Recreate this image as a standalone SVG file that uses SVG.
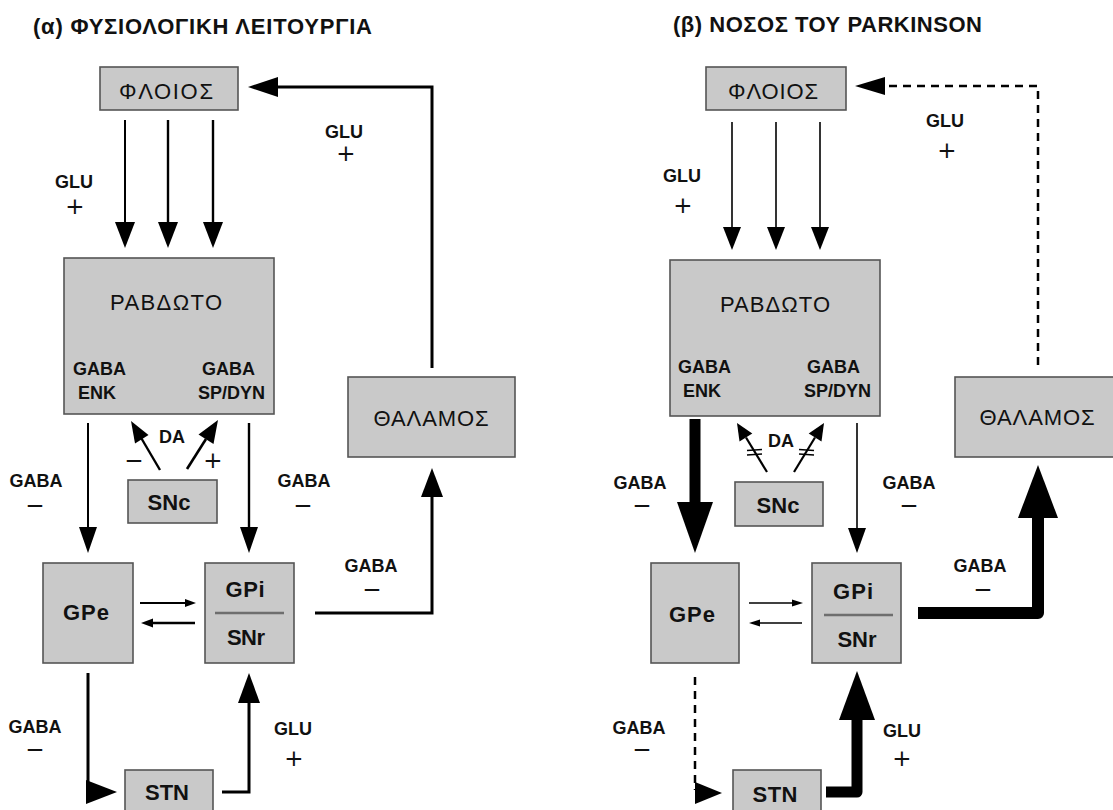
<svg xmlns="http://www.w3.org/2000/svg" width="1113" height="810" viewBox="0 0 1113 810">
<style>
  .box{fill:#c9c9c9;stroke:#555;stroke-width:1.6}
  .div{stroke:#6e6e6e;stroke-width:2.6}
  text{font-family:"Liberation Sans",Arial,sans-serif;fill:#111}
  .title{font-size:22px;font-weight:bold}
  .big{font-size:22px}
  .node{font-size:22px;font-weight:bold}
  .lbl{font-size:18px;font-weight:bold}
  .sign{font-family:"DejaVu Sans",sans-serif;font-size:23px;text-anchor:middle}
  .mid{text-anchor:middle}
  .ln{fill:none;stroke:#000;stroke-linecap:butt}
  .hd{fill:#000}
  .dash{stroke-dasharray:8 6}
</style>
<rect width="1113" height="810" fill="#fff"/>

<text id="title-a" class="title" x="33" y="34" textLength="339" lengthAdjust="spacing">(α) ΦΥΣΙΟΛΟΓΙΚΗ ΛΕΙΤΟΥΡΓΙΑ</text>
<text id="title-b" class="title" x="673" y="32" textLength="309" lengthAdjust="spacing">(β) ΝΟΣΟΣ ΤΟΥ PARKINSON</text>

<g id="connectors">
  <!-- panel a -->
  <line class="ln" x1="125" y1="120" x2="125" y2="224" stroke-width="2"/>
  <polygon class="hd" points="115,222 135,222 125,248"/>
  <line class="ln" x1="168" y1="120" x2="168" y2="224" stroke-width="2.4"/>
  <polygon class="hd" points="158,222 178,222 168,248"/>
  <line class="ln" x1="213" y1="120" x2="213" y2="224" stroke-width="2.4"/>
  <polygon class="hd" points="203,222 223,222 213,248"/>
  <polyline class="ln" points="432,368 432,87 276,87" stroke-width="3"/>
  <polygon class="hd" points="278,77 278,97 248,87"/>
  <line class="ln" x1="88" y1="423" x2="88" y2="529" stroke-width="2"/>
  <polygon class="hd" points="79,527 97,527 88,553"/>
  <line class="ln" x1="249" y1="423" x2="249" y2="529" stroke-width="2.4"/>
  <polygon class="hd" points="240,527 258,527 249,553"/>
  <line class="ln" x1="160" y1="470" x2="141.5" y2="438.5" stroke-width="2.4"/>
  <polygon class="hd" points="131,421 148.5,435 135,443.5"/>
  <line class="ln" x1="187" y1="469" x2="206" y2="439" stroke-width="2.6"/>
  <polygon class="hd" points="218,420 213.5,444 198.5,434.5"/>
  <line class="ln" x1="140" y1="603" x2="188" y2="603" stroke-width="2"/>
  <polygon class="hd" points="185,599 185,607 196,603"/>
  <line class="ln" x1="195" y1="623" x2="150" y2="623" stroke-width="2.6"/>
  <polygon class="hd" points="153,618.5 153,627.5 141,623"/>
  <polyline class="ln" points="315,613 432,613 432,495" stroke-width="3"/>
  <polygon class="hd" points="421,497 443,497 432,468"/>
  <line class="ln" x1="88" y1="673" x2="88" y2="792" stroke-width="3"/>
  <polygon class="hd" points="86,780 117,792 86,804"/>
  <polyline class="ln" points="222,792 249,792 249,701" stroke-width="3"/>
  <polygon class="hd" points="238,703 260,703 249,673"/>

  <!-- panel b -->
  <line class="ln" x1="732" y1="122" x2="732" y2="229" stroke-width="1.6"/>
  <polygon class="hd" points="723,227 741,227 732,250"/>
  <line class="ln" x1="776" y1="122" x2="776" y2="229" stroke-width="1.6"/>
  <polygon class="hd" points="767,227 785,227 776,250"/>
  <line class="ln" x1="820" y1="122" x2="820" y2="229" stroke-width="1.6"/>
  <polygon class="hd" points="811,227 829,227 820,250"/>
  <polyline class="ln dash" points="1038,365 1038,86 884,86" stroke-width="2.5"/>
  <polygon class="hd" points="885,77 885,95 855,86"/>
  <line class="ln" x1="695" y1="419" x2="695" y2="505" stroke-width="11"/>
  <polygon class="hd" points="677,502 713,502 695,553"/>
  <line class="ln" x1="857" y1="423" x2="857" y2="530" stroke-width="1.6"/>
  <polygon class="hd" points="848,528 866,528 857,553"/>
  <line class="ln" x1="767" y1="472" x2="746" y2="437.5" stroke-width="2.2"/>
  <polygon class="hd" points="737,423 752.3,433.6 739.5,441.4"/>
  <line class="ln" x1="794" y1="472" x2="815" y2="437.5" stroke-width="2.2"/>
  <polygon class="hd" points="824,423 821.5,441.4 808.7,433.6"/>
  <line class="ln" x1="747" y1="450.5" x2="762" y2="449.5" stroke-width="1.6"/>
  <line class="ln" x1="747" y1="455" x2="762" y2="454" stroke-width="1.6"/>
  <line class="ln" x1="799" y1="449.5" x2="814" y2="450.5" stroke-width="1.6"/>
  <line class="ln" x1="799" y1="454" x2="814" y2="455" stroke-width="1.6"/>
  <line class="ln" x1="749" y1="603" x2="794" y2="603" stroke-width="1.3"/>
  <polygon class="hd" points="792,599.5 792,606.5 803,603"/>
  <line class="ln" x1="802" y1="623" x2="758" y2="623" stroke-width="1.3"/>
  <polygon class="hd" points="760,619.5 760,626.5 749,623"/>
  <polyline class="ln" points="918,613 1038,613 1038,514" stroke-width="12" stroke-linejoin="round"/>
  <polygon class="hd" points="1018,518 1058,518 1038,465"/>
  <line class="ln dash" x1="695" y1="677" x2="695" y2="790" stroke-width="2.5"/>
  <polygon class="hd" points="695,782 722,793 695,804"/>
  <polyline class="ln" points="826,792 857,792 857,716" stroke-width="11" stroke-linejoin="round"/>
  <polygon class="hd" points="839,720 875,720 857,671"/>
</g>

<g id="a-floios"><rect class="box" x="100" y="67" width="138" height="43"/><text class="big mid" x="166" y="99" textLength="94" lengthAdjust="spacing">ΦΛΟΙΟΣ</text></g>
<g id="a-rabdoto"><rect class="box" x="64" y="258" width="210" height="156"/><text class="big mid" x="166" y="310" font-size="23" textLength="112" lengthAdjust="spacing">ΡΑΒΔΩΤΟ</text>
  <text class="lbl" x="73" y="375">GABA</text><text class="lbl" x="78" y="399">ENK</text>
  <text class="lbl" x="202" y="375">GABA</text><text class="lbl" x="198" y="399">SP/DYN</text></g>
<g id="a-snc"><rect class="box" x="128" y="480" width="89" height="43"/><text class="node mid" x="169" y="510" textLength="43" lengthAdjust="spacing">SNc</text></g>
<g id="a-thalamos"><rect class="box" x="348" y="377" width="167" height="80"/><text class="big mid" x="431" y="426" textLength="115" lengthAdjust="spacing">ΘΑΛΑΜΟΣ</text></g>
<g id="a-gpe"><rect class="box" x="43" y="563" width="90" height="100"/><text class="node mid" x="86" y="620" textLength="46" lengthAdjust="spacing">GPe</text></g>
<g id="a-gpi"><rect class="box" x="205" y="563" width="89" height="100"/><text class="node mid" x="245" y="597" textLength="39" lengthAdjust="spacing">GPi</text><line class="div" x1="215" y1="613" x2="284" y2="613"/><text class="node mid" x="246" y="645" textLength="38" lengthAdjust="spacing">SNr</text></g>
<g id="a-stn"><rect class="box" x="125" y="770" width="88" height="46"/><text class="node mid" x="167" y="800" textLength="44" lengthAdjust="spacing">STN</text></g>

<g id="b-floios"><rect class="box" x="706" y="67" width="140" height="43"/><text class="big mid" x="773" y="99" textLength="90" lengthAdjust="spacing">ΦΛΟΙΟΣ</text></g>
<g id="b-rabdoto"><rect class="box" x="670" y="260" width="210" height="156"/><text class="big mid" x="775" y="312" font-size="23" textLength="110" lengthAdjust="spacing">ΡΑΒΔΩΤΟ</text>
  <text class="lbl" x="678" y="373">GABA</text><text class="lbl" x="683" y="397">ENK</text>
  <text class="lbl" x="807" y="373">GABA</text><text class="lbl" x="804" y="397">SP/DYN</text></g>
<g id="b-snc"><rect class="box" x="735" y="482" width="88" height="44"/><text class="node mid" x="778" y="513" textLength="43" lengthAdjust="spacing">SNc</text></g>
<g id="b-thalamos"><rect class="box" x="955" y="377" width="170" height="80"/><text class="big mid" x="1037" y="425" textLength="115" lengthAdjust="spacing">ΘΑΛΑΜΟΣ</text></g>
<g id="b-gpe"><rect class="box" x="651" y="563" width="88" height="100"/><text class="node mid" x="692" y="622" textLength="46" lengthAdjust="spacing">GPe</text></g>
<g id="b-gpi"><rect class="box" x="812" y="563" width="89" height="100"/><text class="node mid" x="853" y="599" textLength="40" lengthAdjust="spacing">GPi</text><line class="div" x1="824" y1="615" x2="893" y2="615"/><text class="node mid" x="857" y="647" textLength="39" lengthAdjust="spacing">SNr</text></g>
<g id="b-stn"><rect class="box" x="733" y="770" width="88" height="46"/><text class="node mid" x="775" y="802" textLength="45" lengthAdjust="spacing">STN</text></g>

<g id="labels-a">
  <text class="lbl mid" x="74" y="188">GLU</text><text class="sign" x="75" y="214">+</text>
  <text class="lbl mid" x="344" y="138">GLU</text><text class="sign" x="346" y="161">+</text>
  <text class="lbl" x="159" y="443">DA</text>
  <text class="sign" x="134" y="468">−</text><text class="sign" x="213" y="468">+</text>
  <text class="lbl mid" x="36" y="487">GABA</text><text class="sign" x="35" y="513">−</text>
  <text class="lbl mid" x="304" y="487">GABA</text><text class="sign" x="303" y="513">−</text>
  <text class="lbl mid" x="371" y="572">GABA</text><text class="sign" x="372" y="597">−</text>
  <text class="lbl mid" x="35" y="733">GABA</text><text class="sign" x="35" y="757">−</text>
  <text class="lbl mid" x="293" y="735">GLU</text><text class="sign" x="294" y="766">+</text>
</g>
<g id="labels-b">
  <text class="lbl mid" x="682" y="182">GLU</text><text class="sign" x="683" y="213">+</text>
  <text class="lbl mid" x="945" y="127">GLU</text><text class="sign" x="947" y="158">+</text>
  <text class="lbl" x="768" y="447">DA</text>
  <text class="lbl mid" x="640" y="489">GABA</text><text class="sign" x="642" y="513">−</text>
  <text class="lbl mid" x="909" y="489">GABA</text><text class="sign" x="909" y="513">−</text>
  <text class="lbl mid" x="980" y="572">GABA</text><text class="sign" x="983" y="597">−</text>
  <text class="lbl mid" x="639" y="734">GABA</text><text class="sign" x="642" y="757">−</text>
  <text class="lbl mid" x="902" y="737">GLU</text><text class="sign" x="902" y="766">+</text>
</g>
</svg>
